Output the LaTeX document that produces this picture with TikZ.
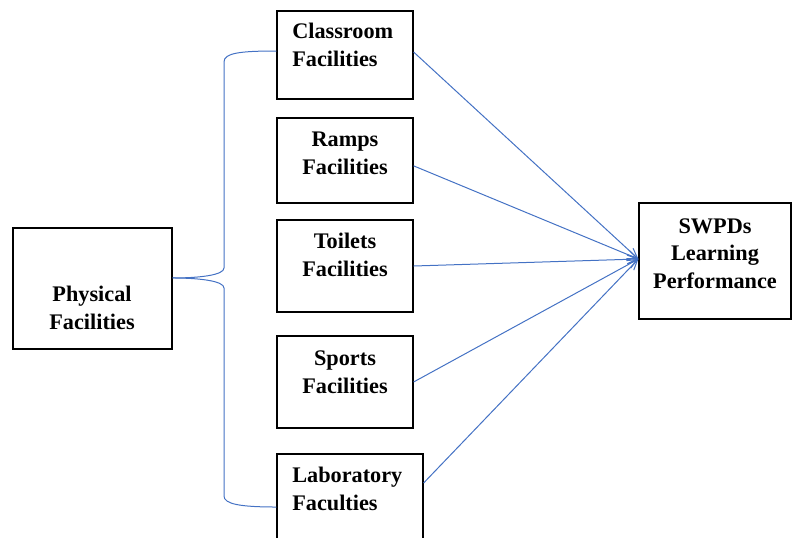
\documentclass[tikz,border=0pt]{standalone}
\usepackage{fontspec}
\setmainfont{Liberation Serif}
\usetikzlibrary{arrows.meta}
\definecolor{linkblue}{RGB}{68,114,196}

\begin{document}
\begin{tikzpicture}[x=0.75pt, y=-0.75pt,
  box/.style={draw, line width=0.9pt, rectangle, inner sep=0pt},
  lbl/.style={font=\bfseries\fontsize{16.7}{20.6}\selectfont, inner sep=0pt, align=center},
  link/.style={linkblue, line width=0.75pt},
  >={Straight Barb[length=7.5pt,width=6.5pt]}]
  \clip (0,0) rectangle (792,537);

  % Physical facilities
  \node[box, minimum width=119.25pt, minimum height=90.75pt] (phys) at (92.5,288.5) {};
  \node[lbl] at (92,308) {Physical\\Facilities};
  \coordinate (tip) at ([yshift=7.9pt]phys.east);

  % Kinds of facilities
  \node[box, minimum width=102pt, minimum height=66pt] (class) at (345,55) {};
  \node[lbl, align=left, anchor=west] at (292,45) {Classroom\\Facilities};

  \node[box, minimum width=102pt, minimum height=63.75pt] (ramps) at (345,160.5) {};
  \node[lbl] at (345,153.5) {Ramps\\Facilities};

  \node[box, minimum width=102pt, minimum height=69pt] (toil) at (345,266) {};
  \node[lbl] at (345,255) {Toilets\\Facilities};

  \node[box, minimum width=102pt, minimum height=69pt] (sport) at (345,382) {};
  \node[lbl] at (345,372) {Sports\\Facilities};

  \node[box, minimum width=109.5pt, minimum height=82.5pt] (lab) at (350,509) {};
  \node[lbl, align=left, anchor=west] at (292,489) {Laboratory\\Faculties};

  % Outcome
  \node[box, minimum width=114pt, minimum height=87pt] (swpd) at (715,261) {};
  \node[lbl] at (715,253.5) {SWPDs\\Learning\\Performance};

  % Brace
  \draw[link] ([yshift=3pt]class.west) .. controls (240,51) and (224,53) .. (224,62)
    -- (224,268) .. controls (224,275) and (200,278) .. (tip);
  \draw[link] (tip) .. controls (200,278) and (224,281) .. (224,288)
    -- (224,496) .. controls (224,504) and (240,507) .. ([yshift=1.5pt]lab.west);

  % Edges
  \draw[link,->] ([yshift=2.25pt]class.east) -- ([yshift=1.5pt]swpd.west);
  \draw[link,->] ([yshift=-4pt]ramps.east) -- ([yshift=1.5pt]swpd.west);
  \draw[link,->] (toil.east) -- ([yshift=1.5pt]swpd.west);
  \draw[link,->] (sport.east) -- ([yshift=1.5pt]swpd.west);
  \draw[link,->] ([yshift=19.5pt]lab.east) -- ([yshift=1.5pt]swpd.west);
\end{tikzpicture}
\end{document}
